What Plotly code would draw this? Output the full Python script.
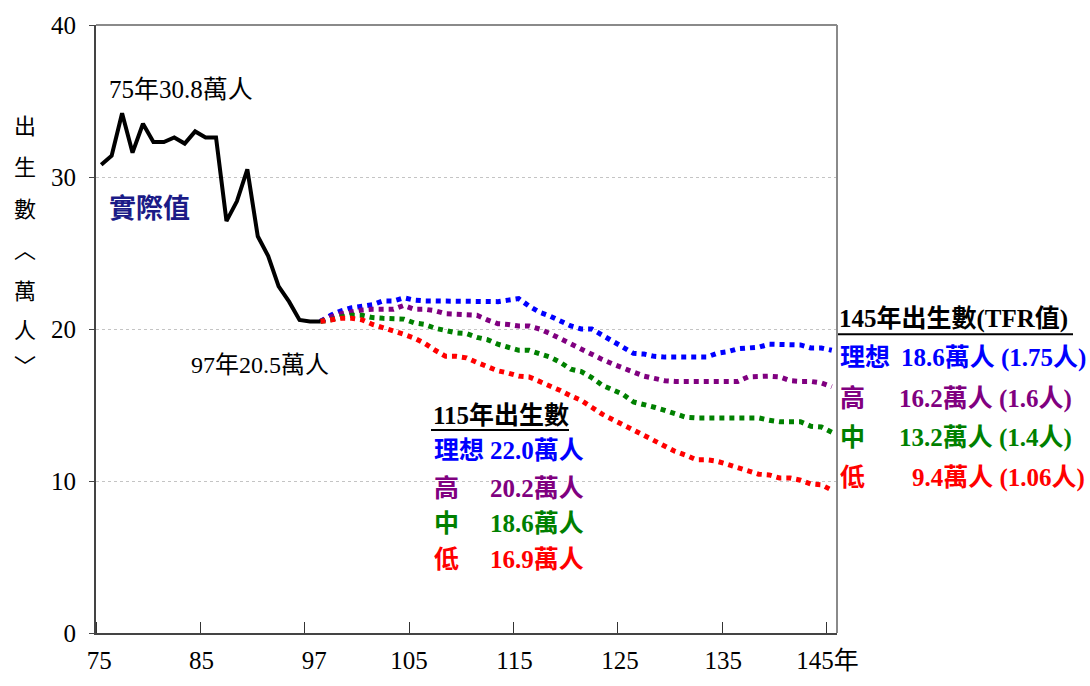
import plotly.graph_objects as go

# ---- data (births, 10k persons) ----
actual_years = list(range(75, 97))
actual_births = [30.8, 31.4, 34.2, 31.6, 33.5, 32.3, 32.3, 32.6, 32.2, 33.0, 32.6,
                 32.6, 27.1, 28.4, 30.5, 26.1, 24.8, 22.8, 21.8, 20.6, 20.5, 20.5]

proj_years = list(range(96, 146))
proj_ideal = [20.5, 20.9, 21.2, 21.4, 21.5, 21.6, 21.85, 21.85, 22.05, 21.9,
              21.85, 21.85, 21.85, 21.85, 21.85, 21.85, 21.8, 21.8, 21.9, 22.0,
              21.5, 21.1, 20.85, 20.55, 20.2, 20.0, 20.0, 19.6, 19.2, 18.75,
              18.4, 18.35, 18.2, 18.15, 18.15, 18.15, 18.15, 18.15, 18.4, 18.5,
              18.7, 18.75, 18.8, 19.0, 19.0, 19.0, 18.95, 18.75, 18.75, 18.6]
proj_high = [20.5, 20.8, 21.0, 21.15, 21.25, 21.3, 21.3, 21.3, 21.55, 21.3,
             21.3, 21.2, 21.0, 20.95, 20.95, 20.9, 20.6, 20.35, 20.3, 20.2,
             20.2, 20.0, 19.7, 19.35, 19.0, 18.7, 18.35, 18.0, 17.7, 17.45,
             17.15, 16.9, 16.75, 16.6, 16.55, 16.55, 16.55, 16.55, 16.55, 16.55,
             16.55, 16.85, 16.9, 16.9, 16.85, 16.6, 16.55, 16.55, 16.45, 16.2]
proj_mid = [20.5, 20.6, 20.8, 20.9, 20.9, 20.75, 20.7, 20.7, 20.65, 20.4,
            20.3, 20.05, 19.9, 19.75, 19.7, 19.45, 19.3, 19.0, 18.8, 18.6,
            18.6, 18.4, 18.15, 17.8, 17.35, 17.2, 16.8, 16.3, 16.0, 15.7,
            15.2, 15.05, 14.85, 14.65, 14.45, 14.2, 14.15, 14.15, 14.15, 14.15,
            14.15, 14.15, 14.15, 14.0, 13.9, 13.9, 13.9, 13.6, 13.55, 13.2]
proj_low = [20.5, 20.6, 20.7, 20.7, 20.6, 20.3, 20.1, 19.9, 19.65, 19.4,
            19.05, 18.6, 18.2, 18.2, 18.1, 17.8, 17.5, 17.25, 17.1, 16.9,
            16.85, 16.55, 16.3, 15.95, 15.6, 15.3, 14.85, 14.4, 14.05, 13.7,
            13.3, 12.95, 12.6, 12.25, 11.95, 11.7, 11.4, 11.4, 11.3, 11.1,
            10.9, 10.65, 10.45, 10.4, 10.2, 10.2, 10.05, 9.8, 9.75, 9.4]

x_tick_labels = ["75", "85", "97", "105", "115", "125", "135", "145年"]
x_label_pos = [74.8, 84.6, 95.4, 104.5, 114.6, 124.7, 134.6, 144.6]
y_ticks = [0, 10, 20, 30, 40]

# ---- styling ----
SERIF = "Liberation Serif, Noto Sans CJK TC"
BLUE, PURPLE, GREEN, RED = "#0000ff", "#800080", "#008000", "#ff0000"
TXT = 25  # size of the summary blocks and tick labels

# plot area in page pixels
L, R, T, B = 96, 837, 14, 637
W_PAGE, H_PAGE = 1090, 686


def px(xp, yp):
    return (xp - L) / (R - L), (B - yp) / (B - T)


fig = go.Figure()

dots = "5px,5px"
for vals, col in [(proj_ideal, BLUE), (proj_high, PURPLE),
                  (proj_mid, GREEN), (proj_low, RED)]:
    fig.add_trace(go.Scatter(x=proj_years, y=vals, mode="lines",
                             line=dict(color=col, width=5, dash=dots),
                             hoverinfo="skip", showlegend=False))

fig.add_trace(go.Scatter(x=actual_years, y=actual_births, mode="lines",
                         line=dict(color="black", width=4),
                         hoverinfo="skip", showlegend=False))

annotations = []


def note(text, xp, yp, size, color="black", anchor="left"):
    ax, ay = px(xp, yp)
    annotations.append(dict(text=text, x=ax, y=ay, xref="paper", yref="paper",
                            xanchor=anchor, yanchor="middle", showarrow=False,
                            font=dict(family=SERIF, size=size, color=color)))


# vertical axis title, one character per line
for ch, yp in zip(["出", "生", "數", "︿", "萬", "人", "﹀"],
                  [118, 160, 203, 245, 287, 327, 364]):
    note(ch, 25, yp, 22, anchor="center")

note("75年30.8萬人", 107, 80, 25)
note("<b>實際值</b>", 107, 203, 27, color="#1b1b87")
note("97年20.5萬人", 189, 362, 24)

# 115 summary block
note("<b>115年出生數</b>", 431, 414, TXT)
note("<b>理想</b>", 432, 450, TXT, BLUE)
note("<b>22.0萬人</b>", 488, 450, TXT, BLUE)
note("<b>高</b>", 432, 489, TXT, PURPLE)
note("<b>20.2萬人</b>", 488, 489, TXT, PURPLE)
note("<b>中</b>", 432, 525, TXT, GREEN)
note("<b>18.6萬人</b>", 488, 525, TXT, GREEN)
note("<b>低</b>", 432, 562, TXT, RED)
note("<b>16.9萬人</b>", 488, 562, TXT, RED)

# 145 summary block
note("<b>145年出生數(TFR值)</b>", 837, 315, TXT)
note("<b>理想</b>", 838, 355, TXT, BLUE)
note("<b>18.6萬人 (1.75人)</b>", 899, 355, TXT, BLUE)
note("<b>高</b>", 838, 397, TXT, PURPLE)
note("<b>16.2萬人 (1.6人)</b>", 897, 397, TXT, PURPLE)
note("<b>中</b>", 838, 437, TXT, GREEN)
note("<b>13.2萬人 (1.4人)</b>", 897, 437, TXT, GREEN)
note("<b>低</b>", 838, 478, TXT, RED)
note("<b>9.4萬人 (1.06人)</b>", 910, 478, TXT, RED)

shapes = []


def hline(x0, x1, yp, color="black", width=2):
    a0, ay = px(x0, yp)
    a1, _ = px(x1, yp)
    shapes.append(dict(type="line", xref="paper", yref="paper", x0=a0, x1=a1,
                       y0=ay, y1=ay, line=dict(color=color, width=width)))


hline(431, 569, 429)
hline(838, 1073, 331)

# top and right frame
shapes.append(dict(type="line", xref="paper", yref="paper", x0=0, x1=1, y0=1, y1=1,
                   line=dict(color="#8a8a8a", width=2)))
shapes.append(dict(type="line", xref="paper", yref="paper", x0=1, x1=1, y0=0, y1=1,
                   line=dict(color="#8a8a8a", width=2)))

fig.update_layout(
    width=W_PAGE, height=H_PAGE,
    margin=dict(l=L, r=W_PAGE - R, t=T, b=H_PAGE - B, pad=0),
    paper_bgcolor="white", plot_bgcolor="white",
    font=dict(family=SERIF, color="black"),
    annotations=annotations, shapes=shapes,
    xaxis=dict(range=[74.5, 145.5], tickvals=x_label_pos, ticktext=x_tick_labels,
               ticks="", showgrid=False, zeroline=False,
               showline=True, linecolor="#444444", linewidth=2,
               tickfont=dict(family=SERIF, size=TXT, color="black"),
               ticklabelstandoff=4,
               minor=dict(tick0=74.5, dtick=10, ticks="inside", ticklen=11,
                          tickcolor="#333333", tickwidth=1, showgrid=False)),
    yaxis=dict(range=[0, 40], tickvals=y_ticks, ticks="outside", ticklen=5,
               tickcolor="#444444", showgrid=True, gridcolor="#c4c4c4",
               griddash="dot", gridwidth=1, zeroline=False,
               showline=True, linecolor="#444444", linewidth=2,
               tickfont=dict(family=SERIF, size=TXT, color="black"),
               ticklabelstandoff=8),
)

fig.write_html("out.html")
